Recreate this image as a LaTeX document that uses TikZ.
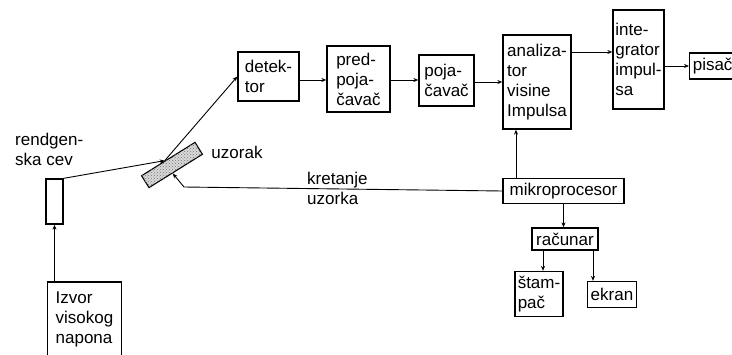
\documentclass[tikz,border=0pt]{standalone}
\usepackage{fontspec}
\setmainfont{Liberation Sans}
\usetikzlibrary{arrows.meta,calc,patterns}
\begin{document}
\begin{tikzpicture}[x=1pt,y=-1pt,
 blk/.style={draw,line width=1.3pt,align=left,inner sep=0pt,font=\fontsize{17}{20}\selectfont},
 lbl/.style={align=left,inner sep=0pt,font=\fontsize{17}{20}\selectfont},
 conn/.style={line width=0.9pt,-{Stealth[length=5pt,width=4pt]}},
 plain/.style={line width=0.9pt}]
\useasboundingbox[fill=white] (0,0) rectangle (732,354);
% top chain
\node[blk,minimum width=61pt,minimum height=49pt] (det) at (268.5,76.5) {detek-\\tor};
\node[blk,minimum width=63pt,minimum height=66pt] (pre) at (358.5,79) {pred-\\poja-\\čavač};
\node[blk,minimum width=55pt,minimum height=51pt] (poj) at (446.5,80.5) {poja-\\čavač};
\node[blk,minimum width=68pt,minimum height=94pt] (ana) at (537,82) {analiza-\\tor\\visine\\Impulsa};
\node[blk,minimum width=51pt,minimum height=99pt] (int) at (638.5,59.5) {inte-\\grator\\impul-\\sa};
\node[blk,minimum width=46pt,minimum height=26pt,anchor=west] (pis) at (689,66) {pisač};
% lower right
\node[blk,minimum width=121pt,minimum height=25pt] (mik) at (563.5,191) {mikroprocesor};
\node[blk,minimum width=66pt,minimum height=22pt] (rac) at (565,239) {računar};
\node[blk,minimum width=48pt,minimum height=45pt] (sta) at (539,294) {štam-\\pač};
\node[blk,minimum width=49pt,minimum height=26pt] (ekr) at (612,294.5) {ekran};
% left side
\node[blk,minimum width=74pt,minimum height=74pt] (izv) at (84.5,319) {Izvor\\visokog\\napona};
\node[draw,line width=1.3pt,minimum width=17pt,minimum height=45pt,inner sep=0pt] (tube) at (54.5,201.5) {};
\node[draw,line width=1.1pt,fill=gray!30,postaction={pattern=crosshatch dots,pattern color=gray!90!black},
      minimum width=63pt,minimum height=14pt,inner sep=0pt,rotate=32] (smp) at (172,165) {};
% labels
\node[lbl,anchor=north west] (rlab) at (15,133) {rendgen-\\ska cev};
\node[lbl] (uz) at (237,152) {uzorak};
\node[lbl,anchor=north west] (kr) at (307,172) {kretanje\\uzorka};
% helper coordinates
\coordinate (hitA) at ($(smp.north west)!0.44!(smp.north east)$);
\coordinate (hitB) at ($(smp.south west)!0.44!(smp.south east)$);
\coordinate (bend) at (184,187);
\coordinate (r1) at (0,80);
\coordinate (r2) at (0,52);
\coordinate (r4) at (0,82);
\coordinate (ma) at (516,0);
\coordinate (c1) at (543,0);
\coordinate (c2) at (593,0);
% connectors
\draw[conn] (tube.south |- izv.north) -- (tube.south);
\draw[conn] (tube.north east) -- (hitA);
\draw[conn] (hitA) -- (det.west);
\draw[conn] (det.east |- r1) -- (pre.west |- r1);
\draw[conn] (pre.east |- r1) -- (poj.west |- r1);
\draw[conn] (poj.east |- r4) -- (ana.west |- r4);
\draw[conn] (ana.east |- r2) -- (int.west |- r2);
\draw[conn] (int.east |- pis.west) -- (pis.west);
\draw[conn] (ma |- mik.north) -- (ma |- ana.south);
\draw[conn] (mik.west) -- (bend) -- (hitB);
\draw[conn] (mik.south) -- (mik.south |- rac.north);
\draw[conn] (c1 |- rac.south) -- (c1 |- sta.north);
\draw[conn] (c2 |- rac.south) -- (c2 |- ekr.north);
\end{tikzpicture}
\end{document}
